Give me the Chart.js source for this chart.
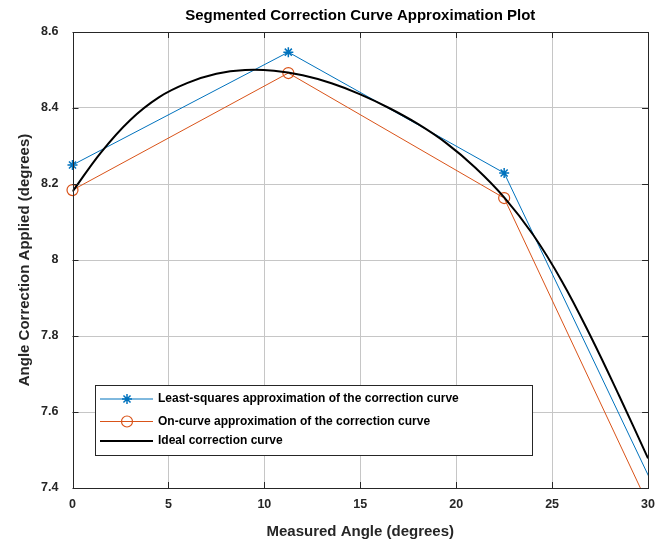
<!DOCTYPE html>
<html>
<head>
<meta charset="utf-8">
<style>
  html, body { margin: 0; padding: 0; background: #fff; }
  #wrap { width: 664px; height: 542px; }
</style>
</head>
<body>
<div id="wrap"><canvas id="chart" width="664" height="542"></canvas></div>
<script src="https://cdn.jsdelivr.net/npm/chart.js@4.4.1/dist/chart.umd.min.js"></script>
<script>
  // segment end points (degrees), the last one runs past the axis and gets clipped
  const segmentAngles = [0, 11.25, 22.5, 33.75];
  const leastSquaresValues = [8.25, 8.547, 8.229, 7.037];
  const onCurveValues = [8.184, 8.492, 8.163, 6.954];

  // ideal curve
  const idealAngles = [0, 1.5, 3, 4.5, 6, 7.5, 9, 10.5, 12, 13.5, 15, 16.5, 18, 19.5, 21, 22.5, 24, 25.5, 27, 28.5, 30];
  const idealValues = [8.18, 8.284, 8.368, 8.428, 8.466, 8.49, 8.5, 8.498, 8.486, 8.465, 8.436, 8.4, 8.358, 8.307, 8.243, 8.165, 8.067, 7.945, 7.8, 7.642, 7.478];

  const xTicks = [0, 5, 10, 15, 20, 25, 30];
  const yTicks = [7.4, 7.6, 7.8, 8, 8.2, 8.4, 8.6];

  const titleText = 'Segmented Correction Curve Approximation Plot';
  const xLabel = 'Measured Angle (degrees)';
  const yLabel = 'Angle Correction Applied (degrees)';
  const seriesNames = [
    'Least-squares approximation of the correction curve',
    'On-curve approximation of the correction curve',
    'Ideal correction curve'
  ];

  const FONT = "'Liberation Sans', Arial, Helvetica, sans-serif";
  const BLUE = '#0072BD';
  const ORANGE = '#D95319';
  const AXIS = '#262626';

  const toPoints = (xs, ys) => xs.map((x, i) => ({ x, y: ys[i] }));

  function drawMarker(ctx, style, cx, cy, r) {
    ctx.beginPath();
    if (style === 'star') {
      for (let k = 0; k < 4; k++) {
        const a = k * Math.PI / 4;
        ctx.moveTo(cx - r * Math.cos(a), cy - r * Math.sin(a));
        ctx.lineTo(cx + r * Math.cos(a), cy + r * Math.sin(a));
      }
    } else if (style === 'circle') {
      ctx.arc(cx, cy, r, 0, Math.PI * 2);
    }
    ctx.stroke();
  }

  // title, axis labels, box with inner ticks
  const frame = {
    id: 'frame',
    afterDatasetsDraw(chart) {
      const { ctx, chartArea: a, scales: { x, y } } = chart;
      ctx.save();
      ctx.strokeStyle = AXIS;
      ctx.lineWidth = 1;
      ctx.beginPath();
      xTicks.forEach(v => {
        const px = Math.round(x.getPixelForValue(v)) + 0.5;
        ctx.moveTo(px, a.bottom); ctx.lineTo(px, a.bottom - 6);
        ctx.moveTo(px, a.top); ctx.lineTo(px, a.top + 6);
      });
      yTicks.forEach(v => {
        const py = Math.round(y.getPixelForValue(v)) + 0.5;
        ctx.moveTo(a.left, py); ctx.lineTo(a.left + 6, py);
        ctx.moveTo(a.right, py); ctx.lineTo(a.right - 6, py);
      });
      ctx.stroke();
      ctx.strokeRect(Math.round(a.left) + 0.5, Math.round(a.top) + 0.5, Math.round(a.width) - 1, Math.round(a.height));

      const cx = (a.left + a.right) / 2;
      ctx.fillStyle = '#000';
      ctx.textAlign = 'center';
      ctx.textBaseline = 'middle';
      ctx.font = 'bold 15px ' + FONT;
      ctx.fillText(titleText, cx, 16);
      ctx.fillStyle = AXIS;
      ctx.fillText(xLabel, cx, 532);
      ctx.save();
      ctx.translate(24.5, (a.top + a.bottom) / 2);
      ctx.rotate(-Math.PI / 2);
      ctx.fillText(yLabel, 0, 0);
      ctx.restore();
      ctx.restore();
    }
  };

  const legendBox = {
    id: 'legendBox',
    afterDraw(chart) {
      const ctx = chart.ctx;
      const bx = 95.5, by = 385.5, bw = 437, bh = 70;
      const rows = [399, 421.5, 441];
      const order = [1, 2, 0];
      ctx.save();
      ctx.fillStyle = '#fff';
      ctx.fillRect(bx, by, bw, bh);
      ctx.strokeStyle = AXIS;
      ctx.lineWidth = 1;
      ctx.strokeRect(bx, by, bw, bh);
      order.forEach((di, i) => {
        const ds = chart.data.datasets[di];
        const yy = rows[i];
        ctx.strokeStyle = ds.borderColor;
        ctx.lineWidth = ds.borderWidth;
        ctx.beginPath();
        ctx.moveTo(100, yy); ctx.lineTo(153, yy);
        ctx.stroke();
        if (ds.pointRadius > 0) {
          ctx.lineWidth = ds.pointBorderWidth;
          drawMarker(ctx, ds.pointStyle, 127, yy, ds.pointRadius);
        }
        ctx.fillStyle = '#000';
        ctx.font = 'bold 12px ' + FONT;
        ctx.textAlign = 'left';
        ctx.textBaseline = 'middle';
        ctx.fillText(ds.label, 158, yy);
      });
      ctx.restore();
    }
  };

  const gridColor = ctx => (ctx.index === 0 || ctx.index === ctx.chart.scales[ctx.scale.id].ticks.length - 1) ? 'rgba(0,0,0,0)' : '#c6c6c6';

  new Chart(document.getElementById('chart').getContext('2d'), {
    type: 'scatter',
    data: {
      datasets: [
        {
          label: seriesNames[2],
          data: toPoints(idealAngles, idealValues),
          showLine: true,
          borderColor: '#000',
          borderWidth: 2,
          pointRadius: 0,
          tension: 0.4,
          order: 0,
          clip: 0
        },
        {
          label: seriesNames[0],
          data: toPoints(segmentAngles, leastSquaresValues),
          showLine: true,
          borderColor: BLUE,
          borderWidth: 1,
          pointStyle: 'star',
          pointRadius: 5,
          pointBorderWidth: 1.5,
          pointBorderColor: BLUE,
          pointBackgroundColor: 'rgba(0,0,0,0)',
          order: 1,
          clip: { left: 10, top: 10, right: 0, bottom: 0 }
        },
        {
          label: seriesNames[1],
          data: toPoints(segmentAngles, onCurveValues),
          showLine: true,
          borderColor: ORANGE,
          borderWidth: 1,
          pointStyle: 'circle',
          pointRadius: 5.5,
          pointBorderWidth: 1.2,
          pointBorderColor: ORANGE,
          pointBackgroundColor: 'rgba(0,0,0,0)',
          order: 2,
          clip: { left: 10, top: 10, right: 0, bottom: 0 }
        }
      ]
    },
    options: {
      responsive: false,
      animation: false,
      devicePixelRatio: 1,
      layout: { padding: { left: 0, top: 32, right: 13, bottom: 0 } },
      plugins: {
        legend: { display: false },
        title: { display: false },
        tooltip: { enabled: false }
      },
      scales: {
        x: {
          type: 'linear',
          min: 0,
          max: 30,
          afterBuildTicks: s => { s.ticks = xTicks.map(v => ({ value: v })); },
          afterFit: s => { s.height = 54; },
          grid: { color: gridColor, drawTicks: false },
          border: { display: false },
          ticks: {
            padding: 9,
            color: AXIS,
            font: { family: FONT, size: 12.5, weight: 'bold' },
            maxRotation: 0,
            callback: v => String(v)
          }
        },
        y: {
          type: 'linear',
          min: 7.4,
          max: 8.6,
          afterBuildTicks: s => { s.ticks = yTicks.map(v => ({ value: v })); },
          afterFit: s => { s.width = 72.5; },
          grid: { color: gridColor, drawTicks: false },
          border: { display: false },
          ticks: {
            padding: 14,
            color: AXIS,
            font: { family: FONT, size: 12.5, weight: 'bold' },
            callback: v => String(Number(v.toFixed(1)))
          }
        }
      }
    },
    plugins: [frame, legendBox]
  });
</script>
</body>
</html>
